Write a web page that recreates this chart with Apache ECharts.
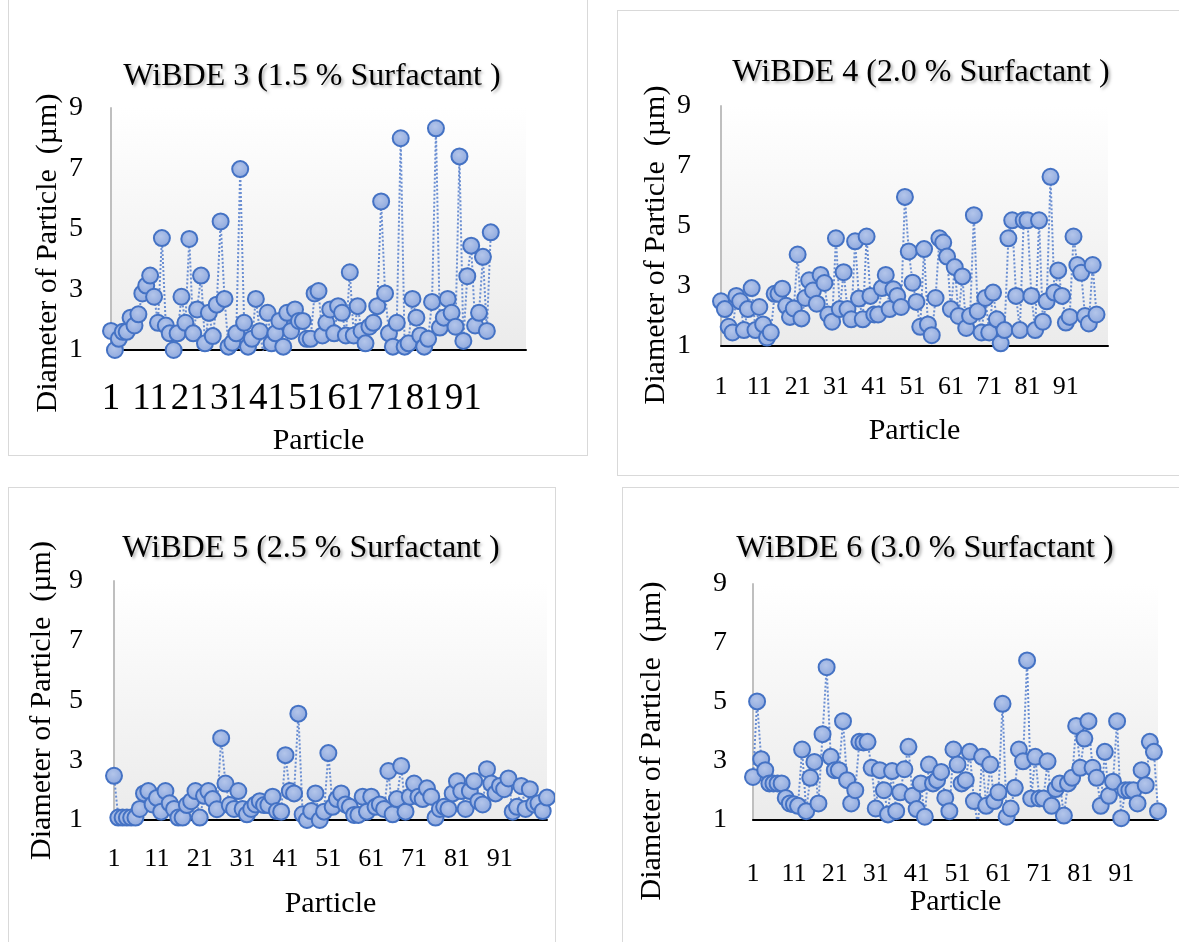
<!DOCTYPE html>
<html>
<head>
<meta charset="utf-8">
<script src="https://cdn.jsdelivr.net/npm/echarts@6/dist/echarts.min.js"></script>
<style>
body { margin: 0; width: 1179px; height: 942px; background: #fff; position: relative; overflow: hidden; }
.panel { position: absolute; box-sizing: border-box; border: 1px solid #d9d9d9; }
</style>
</head>
<body>
<div id="p1" class="panel" style="left:8px;top:-1px;width:580px;height:457px"></div>
<div id="p2" class="panel" style="left:617px;top:10px;width:563px;height:466px"></div>
<div id="p3" class="panel" style="left:8px;top:487px;width:548px;height:456px"></div>
<div id="p4" class="panel" style="left:622px;top:487px;width:558px;height:456px"></div>
<script>
// particle diameters (µm)
const wibde3 = [1.63, 1.0, 1.37, 1.6, 1.6, 2.07, 1.81, 2.18, 2.87, 3.13,
  3.46, 2.76, 1.9, 4.7, 1.81, 1.55, 1.0, 1.55, 2.76, 1.9,
  4.67, 1.55, 2.34, 3.46, 1.22, 2.23, 1.46, 2.5, 5.25, 2.69,
  1.11, 1.24, 1.55, 6.98, 1.9, 1.11, 1.37, 2.69, 1.62, 0.8,
  2.23, 1.22, 1.55, 1.96, 1.11, 2.23, 1.63, 2.34, 1.96, 1.96,
  1.37, 1.37, 2.87, 2.95, 1.48, 1.9, 2.34, 1.55, 2.45, 2.23,
  1.48, 3.57, 1.48, 2.45, 1.63, 1.22, 1.77, 1.9, 2.45, 5.91,
  2.87, 1.55, 1.11, 1.9, 8.0, 1.11, 1.22, 2.69, 2.07, 1.48,
  1.11, 1.37, 2.59, 8.33, 1.74, 2.07, 2.69, 2.23, 1.77, 7.4,
  1.3, 3.44, 4.45, 1.81, 2.23, 4.08, 1.63, 4.89];
const wibde4 = [2.49, 2.23, 1.64, 1.45, 2.67, 2.49, 1.53, 2.23, 2.93, 1.53,
  2.3, 1.72, 1.28, 1.45, 2.74, 2.74, 2.91, 2.34, 1.97, 2.25,
  4.05, 1.92, 2.6, 3.19, 2.85, 2.41, 3.37, 3.1, 2.05, 1.81,
  4.59, 2.23, 3.46, 2.23, 1.89, 4.49, 2.58, 1.89, 4.65, 2.67,
  2.05, 2.05, 2.93, 3.37, 2.23, 2.89, 2.67, 2.3, 5.97, 4.15,
  3.11, 2.47, 1.64, 4.23, 1.72, 1.36, 2.6, 4.59, 4.45, 3.98,
  2.23, 3.63, 2.0, 3.32, 1.6, 2.0, 5.36, 2.16, 1.45, 2.6,
  1.45, 2.78, 1.89, 1.09, 1.53, 4.59, 5.19, 2.67, 1.53, 5.19,
  5.19, 2.67, 1.53, 5.19, 1.81, 2.49, 6.64, 2.78, 3.52, 2.67,
  1.78, 1.97, 4.65, 3.7, 3.44, 2.0, 1.75, 3.7, 2.05];
const wibde5 = [2.48, 1.08, 1.08, 1.08, 1.08, 1.08, 1.37, 1.89, 1.97, 1.52,
  1.74, 1.28, 1.97, 1.56, 1.37, 1.08, 1.08, 1.5, 1.63, 1.97,
  1.08, 1.81, 1.97, 1.7, 1.36, 3.74, 2.22, 1.5, 1.37, 1.97,
  1.37, 1.19, 1.37, 1.52, 1.63, 1.5, 1.5, 1.78, 1.3, 1.28,
  3.17, 1.97, 1.89, 4.56, 1.19, 1.0, 1.3, 1.89, 1.0, 1.28,
  3.24, 1.44, 1.7, 1.89, 1.52, 1.44, 1.17, 1.17, 1.78, 1.28,
  1.78, 1.44, 1.52, 1.37, 2.64, 1.19, 1.7, 2.81, 1.28, 1.78,
  2.22, 1.78, 1.7, 2.06, 1.78, 1.08, 1.37, 1.44, 1.37, 1.89,
  2.3, 1.97, 1.37, 1.97, 2.3, 1.63, 1.52, 2.7, 2.22, 1.89,
  2.14, 2.03, 2.39, 1.28, 1.44, 2.14, 1.37, 2.03, 1.52, 1.56,
  1.3, 1.75];
const wibde6 = [2.46, 5.02, 3.06, 2.69, 2.24, 2.24, 2.24, 2.24, 1.75, 1.56,
  1.53, 1.48, 3.39, 1.3, 2.43, 2.97, 1.56, 3.91, 6.18, 3.14,
  2.69, 2.69, 4.35, 2.35, 1.56, 2.01, 3.65, 3.63, 3.65, 2.77,
  1.39, 2.69, 2.01, 1.19, 2.66, 1.3, 1.94, 2.72, 3.48, 1.82,
  1.37, 2.24, 1.11, 2.88, 2.24, 2.35, 2.63, 1.75, 1.3, 3.39,
  2.88, 2.24, 2.35, 3.31, 1.64, 0.8, 3.14, 1.48, 2.88, 1.64,
  1.94, 4.94, 1.11, 1.39, 2.09, 3.39, 2.99, 6.41, 1.73, 3.14,
  1.73, 1.73, 2.99, 1.48, 2.05, 2.24, 1.15, 2.24, 2.43, 4.19,
  2.77, 3.76, 4.35, 2.77, 2.43, 1.48, 3.31, 1.82, 2.3, 4.35,
  1.06, 2.01, 2.01, 2.01, 1.56, 2.69, 2.18, 3.65, 3.31, 1.3];

const titles = ["WiBDE 3 (1.5 % Surfactant )", "WiBDE 4 (2.0 % Surfactant )",
  "WiBDE 5 (2.5 % Surfactant )", "WiBDE 6 (3.0 % Surfactant )"];
// number of slots on each category axis (excel left some empty rows)
const slotCounts = [107, 102, 102, 100];
const yTickLabels = [1, 3, 5, 7, 9];
const xTickLabels = ["1", "11", "21", "31", "41", "51", "61", "71", "81", "91"];

const serif = "Liberation Serif";

function drawPanel(dom, title, values, slots, lay) {
  let categories = [];
  for (let i = 1; i <= slots; i++) categories.push(String(i));
  let chart = echarts.init(document.getElementById(dom));
  let option = {
    animation: false,
    title: {
      text: title,
      left: lay.titleX,
      top: lay.titleTop,
      textAlign: "center",
      textStyle: {
        fontFamily: serif, fontSize: 32, fontWeight: "normal", color: "#000",
        textShadowColor: "rgba(0,0,0,0.3)", textShadowBlur: 3,
        textShadowOffsetX: 2, textShadowOffsetY: 2,
      },
    },
    grid: {
      left: lay.left, right: lay.right, top: lay.top, bottom: lay.bottom,
      outerBoundsMode: "none",
      show: true, borderWidth: 0,
      backgroundColor: new echarts.graphic.LinearGradient(0, 0, 0, 1, [
        { offset: 0, color: "#ffffff" },
        { offset: 1, color: "#ebebeb" },
      ]),
    },
    xAxis: {
      type: "category",
      data: categories,
      boundaryGap: false,
      name: "Particle",
      nameLocation: "middle",
      nameGap: lay.xNameGap,
      nameMoveOverlap: false,
      nameTextStyle: { fontFamily: serif, fontSize: 30, color: "#000" },
      axisLine: { lineStyle: { color: "#000", width: 2 } },
      axisTick: { show: false },
      axisLabel: {
        interval: (idx, val) => xTickLabels.indexOf(val) !== -1,
        fontFamily: serif, fontSize: lay.xFont, color: "#000", margin: lay.xMargin,
      },
      splitLine: { show: false },
    },
    yAxis: {
      type: "value",
      min: 1,
      max: 9,
      interval: 1,
      name: "Diameter of Particle  (\u00b5m)",
      nameLocation: "middle",
      nameRotate: 90,
      nameGap: lay.yNameGap,
      nameMoveOverlap: false,
      nameTextStyle: {
        fontFamily: serif, fontSize: 30, color: "#000",
        padding: [0, lay.yNameShift, 0, 0],
      },
      axisLine: { show: true, lineStyle: { color: "#bfbfbf", width: 2 } },
      axisTick: { show: false },
      splitLine: { show: false },
      axisLabel: {
        formatter: (v) => (yTickLabels.indexOf(v) !== -1 ? String(v) : ""),
        fontFamily: serif, fontSize: 28, color: "#000", margin: lay.yMargin,
      },
    },
    series: [
      {
        type: "line",
        data: values,
        symbol: "circle",
        symbolSize: 16,
        showAllSymbol: true,
        lineStyle: { color: "#6a8ed2", width: 2, type: "dotted" },
        itemStyle: {
          color: new echarts.graphic.RadialGradient(0.45, 0.4, 0.7, [
            { offset: 0, color: "#b3c5ea" },
            { offset: 1, color: "#86a2db" },
          ]),
          borderColor: "#4472c4",
          borderWidth: 2,
        },
      },
    ],
  };
  chart.setOption(option);
}

drawPanel("p1", titles[0], wibde3, slotCounts[0],
  { titleX: 298, titleTop: 56, left: 102, right: 61, top: 108, bottom: 105,
    xFont: 37, xMargin: 31, yMargin: 28, xNameGap: 76, yNameGap: 48, yNameShift: 48 });
drawPanel("p2", titles[1], wibde4, slotCounts[1],
  { titleX: 298, titleTop: 41, left: 103, right: 71, top: 95, bottom: 129,
    xFont: 26, xMargin: 28, yMargin: 30, xNameGap: 70, yNameGap: 50, yNameShift: 38 });
drawPanel("p3", titles[2], wibde5, slotCounts[2],
  { titleX: 297, titleTop: 40, left: 105, right: 8, top: 93, bottom: 122,
    xFont: 26, xMargin: 26, yMargin: 31, xNameGap: 69, yNameGap: 57, yNameShift: 0 });
drawPanel("p4", titles[3], wibde6, slotCounts[3],
  { titleX: 297, titleTop: 40, left: 130, right: 21, top: 96, bottom: 122,
    xFont: 26, xMargin: 41, yMargin: 26, xNameGap: 67, yNameGap: 86, yNameShift: 78 });
</script>
</body>
</html>
